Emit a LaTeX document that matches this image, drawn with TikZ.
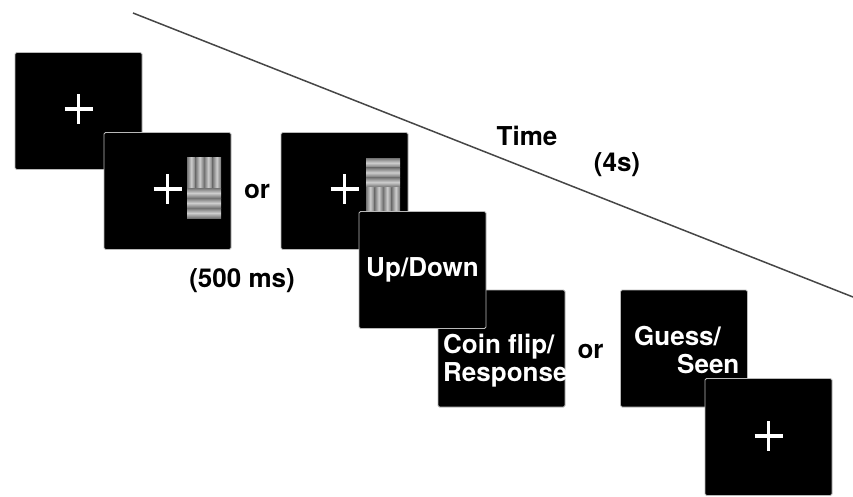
\documentclass[tikz,border=0pt]{standalone}
\usepackage{fontspec}
\setsansfont{TeX Gyre Heros}
\usetikzlibrary{positioning}
\definecolor{stripelight}{RGB}{205,205,205}
\definecolor{stripedark}{RGB}{115,115,115}
\definecolor{linegray}{RGB}{70,70,70}

% grating patches, top-left corner given
\newcommand{\vgrating}[3]{%
  \foreach \k in {0,...,3}
    \shade[left color=stripedark, right color=stripedark, middle color=stripelight]
      (#1+\k*8.5,#2) rectangle ++(8.5,#3);}
\newcommand{\hgrating}[3]{%
  \foreach \k in {0,...,2}
    \shade[top color=stripedark, bottom color=stripedark, middle color=stripelight]
      (#1,#2+\k*#3/3) rectangle ++(34,#3/3);}

\begin{document}
\begin{tikzpicture}[x=1pt,y=-1pt,font=\sffamily\bfseries\fontsize{26}{28}\selectfont,
  screen/.style={draw=gray!55, line width=0.8pt, fill=black, rounded corners=1.5pt,
    minimum width=127pt, minimum height=117pt, inner sep=0pt, text=white},
  fixcross/.style={white, line width=3.2pt},
  timeline/.style={linegray, line width=1.5pt}]
  \useasboundingbox (0,0) rectangle (853,496);

  % Zeitachse
  \coordinate (tstart) at (133,13);
  \coordinate (tend) at (853,297);
  \draw[timeline] (tstart) -- (tend);
  \node (timelbl) at (527,135.5) {Time};
  \node (durlbl) at (617,165) {(4s)};

  % Fixation und Reiz
  \node[screen] (fix1) at (78.5,111) {};
  \node[screen] (cue1) at (167.5,191) {};
  \vgrating{187}{157}{31}
  \hgrating{187}{188}{30}
  \node (or1) at (257,191) {or};
  \node[screen] (cue2) at (344.5,191) {};
  \hgrating{366}{158}{29}
  \vgrating{366}{187}{30}
  \foreach \b in {fix1,cue1,cue2}
    \draw[fixcross] ([yshift=2pt]\b.center) +(-14,0) -- +(14,0) +(0,-15) -- +(0,15);
  \node (stimlbl) at (242,280.5) {(500 ms)};

  % Antworten
  \node[screen] (coin) at (501.5,348.5) {};
  \node[screen] (updown) at (422.5,270) {Up/Down};
  \node[text=white, align=left, anchor=north west, inner sep=0pt] (coinlbl)
    at (443,334) {Coin flip/\\Response};
  \node (or2) at (590.5,351) {or};
  \node[screen] (guess) at (684,348.5) {};
  \node[text=white, align=left, anchor=north west, inner sep=0pt] (guesslbl)
    at (634,326) {Guess/\\\hspace*{43pt}Seen};
  \node[screen] (fix2) at (768.5,437) {};
  \draw[fixcross] ([yshift=1pt]fix2.center) +(-14,0) -- +(14,0) +(0,-15) -- +(0,15);
\end{tikzpicture}
\end{document}
